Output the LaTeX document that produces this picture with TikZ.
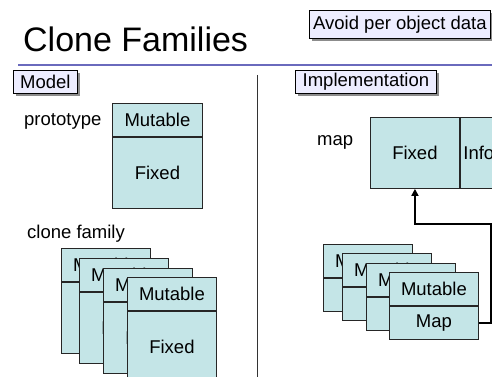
\documentclass[tikz,border=0pt]{standalone}
\usepackage{fontspec}
\setmainfont{Liberation Sans}
\usetikzlibrary{arrows.meta,shadows}
\definecolor{cellfill}{HTML}{C4E5E7}
\definecolor{tagfill}{HTML}{EDEDFF}
\definecolor{rule}{HTML}{6A6ABD}
\tikzset{
  txt/.style={font=\fontsize{18.5}{20}\selectfont, inner sep=0},
  cell/.style={txt, draw=black!85, line width=0.9pt, fill=cellfill, minimum width=89, anchor=north west},
  tag/.style={txt, draw=black, line width=0.8pt, fill=tagfill, anchor=north west,
    drop shadow={shadow xshift=2.5pt, shadow yshift=-2.5pt, fill=black!45, opacity=1}},
  link/.style={line width=2pt, -{Triangle[length=7pt,width=7pt]}},
}
\begin{document}
\begin{tikzpicture}[x=1pt,y=-1pt]
\useasboundingbox (0,0) rectangle (492,377);
\clip (0,0) rectangle (492,377);
% title and rule
\node[txt, font=\fontsize{34}{38}\selectfont, anchor=base west] (title) at (23,52) {Clone Families};
\draw[rule, line width=2.2pt] (18,65) -- (492,65);
\node[tag, minimum width=181, minimum height=28] (avoid) at (309,10) {Avoid per object data};
% divider
\draw[black!80, line width=0.9pt] (257,75) -- (257,377);
% Model side
\node[tag, minimum width=64, minimum height=23] (model) at (13,70) {Model};
\node[txt, anchor=base west] (proto) at (24,125) {prototype};
\node[cell, minimum width=90, minimum height=33] (pm) at (112,103) {Mutable};
\node[cell, minimum width=90, minimum height=71] (pf) at (pm.south west) {Fixed};
\node[txt, anchor=base west] (family) at (27,238) {clone family};
\foreach \i/\x/\y in {1/61/248, 2/79/258, 3/103/268, 4/127/277}{
  \node[cell, minimum height=33] (lm\i) at (\x,\y) {Mutable};
  \node[cell, minimum height=71] (lf\i) at (lm\i.south west) {Fixed};
}
% Implementation side
\node[tag, minimum width=141, minimum height=23] (impl) at (295,70) {Implementation};
\node[txt, anchor=base west] (maplabel) at (317,145) {map};
\node[cell, minimum height=71] (mapfixed) at (370,117) {Fixed};
\node[cell, minimum width=80, minimum height=71, text width=74, align=left] (mapinfo) at (mapfixed.north east) {Info};
\foreach \i/\x/\y in {1/323/244, 2/342/253, 3/366/263, 4/389/272}{
  \node[cell, minimum height=33] (rm\i) at (\x,\y) {Mutable};
  \node[cell, minimum height=33] (rp\i) at (rm\i.south west) {Map};
}
\coordinate (turn) at (491,224);
\draw[link] (rp4.east) -| (turn) -| (mapfixed.south);
\end{tikzpicture}
\end{document}
